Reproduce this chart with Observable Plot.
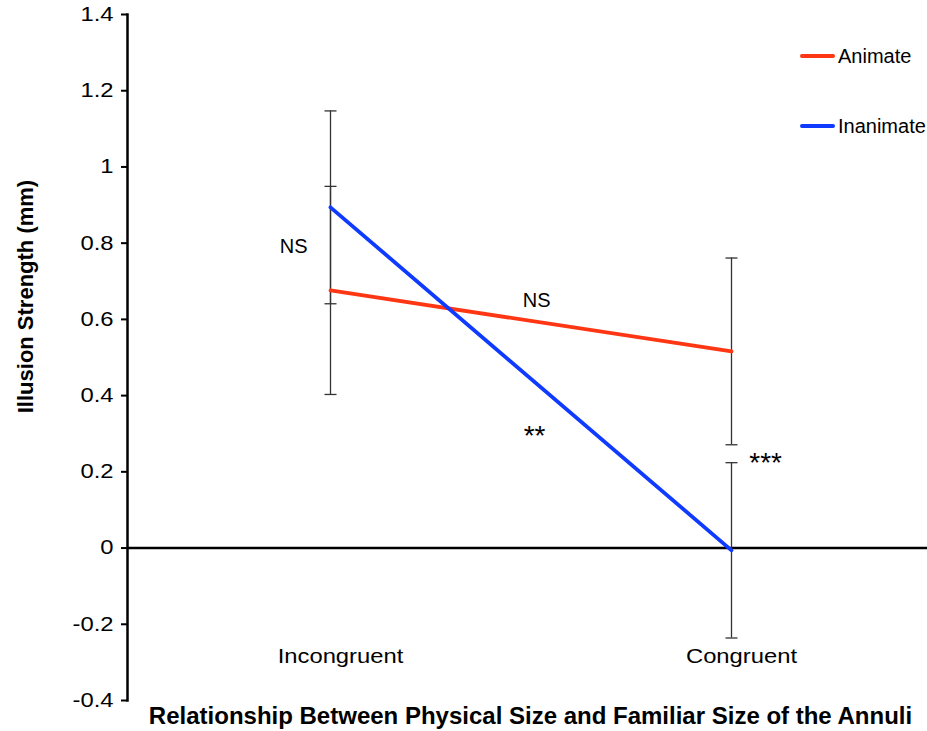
<!DOCTYPE html>
<html>
<head>
<meta charset="utf-8">
<script src="https://cdn.jsdelivr.net/npm/d3@7"></script>
<script src="https://cdn.jsdelivr.net/npm/@observablehq/plot@0.6"></script>
<style>
  body { margin: 0; background: white; font-family: "Liberation Sans", Arial, sans-serif; }
  #wrap { position: relative; width: 927px; height: 731px; }
  .legend { position: absolute; left: 800px; display: flex; align-items: center; font-size: 20px; color: #000; }
  .legend .sw { width: 35px; height: 4px; border-radius: 2px; margin-right: 3px; }
</style>
</head>
<body>
<div id="wrap"></div>
<script>
const categories = ["Incongruent", "Congruent"];
const series = ["Animate", "Inanimate"];
const colors = ["#ff3614", "#0f3aff"];
const animateValues = [0.676, 0.516];
const inanimateValues = [0.894, -0.006];
const animateErrors = [0.273, 0.245];
const inanimateErrors = [0.253, 0.23];
const yTicks = [-0.4, -0.2, 0, 0.2, 0.4, 0.6, 0.8, 1, 1.2, 1.4];
const annotationLabels = ["NS", "NS", "**", "***"];
const annotationX = [-0.092, 0.514, 0.509, 1.085];
const annotationY = [0.792, 0.65, 0.293, 0.223];
const annotationSizes = [20, 20, 28, 28];
const xTitle = "Relationship Between Physical Size and Familiar Size of the Annuli";
const yTitle = "Illusion Strength (mm)";

const valuesBySeries = [animateValues, inanimateValues];
const errorsBySeries = [animateErrors, inanimateErrors];
const rows = [];
series.forEach((s, si) => categories.forEach((c, ci) => {
  const v = valuesBySeries[si][ci], e = errorsBySeries[si][ci];
  rows.push({series: s, i: ci, value: v, lo: v - e, hi: v + e});
}));
const caps = rows.flatMap(r => [{i: r.i, y: r.lo}, {i: r.i, y: r.hi}]);
const notes = annotationLabels.map((t, k) => ({t, x: annotationX[k], y: annotationY[k], size: annotationSizes[k]}));
const ns = notes.filter(n => n.t === "NS");
const stars = notes.filter(n => n.t !== "NS");

const capSymbol = {
  draw(ctx, size) {
    const w = Math.sqrt(size / Math.PI);
    ctx.moveTo(-w, 0);
    ctx.lineTo(w, 0);
  }
};

const chart = Plot.plot({
  width: 927,
  height: 731,
  marginLeft: 127,
  marginRight: 0,
  marginTop: 14,
  marginBottom: 31,
  style: {fontFamily: "'Liberation Sans', Arial, sans-serif", background: "white", color: "black"},
  x: {domain: [0, 1], range: [330, 731]},
  y: {domain: [-0.4, 1.4]},
  color: {domain: series, range: colors},
  marks: [
    Plot.axisY({ticks: yTicks, tickSize: 6, tickPadding: 8, tickFormat: d => String(d), fontSize: 20, label: null, strokeWidth: 2}),
    Plot.frame({anchor: "left", strokeWidth: 2.5}),
    Plot.ruleY([0], {strokeWidth: 2.5}),
    Plot.axisX({ticks: [0, 1], tickFormat: i => categories[i], tickSize: 0, fontSize: 20, dy: -61, dx: 10, label: null}),
    Plot.ruleX(rows, {x: "i", y1: "lo", y2: "hi", stroke: "#333", strokeWidth: 1.3}),
    Plot.dot(caps, {x: "i", y: "y", r: 6, symbol: capSymbol, stroke: "#333", strokeWidth: 1.3, fill: "none"}),
    Plot.line(rows, {x: "i", y: "value", stroke: "series", z: "series", strokeWidth: 3.8}),
    Plot.text(ns, {x: "x", y: "y", text: "t", fontSize: "size", fill: "black"}),
    Plot.text(stars, {x: "x", y: "y", text: "t", fontSize: "size", fill: "black", ariaLabel: "stretch-text"}),
    Plot.text([{t: yTitle, y: 0.66}], {frameAnchor: "left", y: "y", text: "t", rotate: -90, textAnchor: "middle", lineAnchor: "middle", dx: -102, fontSize: 22, fontWeight: "bold", ariaLabel: "rotated-title"}),
    Plot.text([xTitle], {frameAnchor: "bottom", text: d => d, textAnchor: "middle", lineAnchor: "middle", dy: 16, dx: 3, fontSize: 24, fontWeight: "bold"})
  ]
});

function stretch(el, sx, sy) {
  const x = el.getAttribute("x");
  let t = el.getAttribute("transform") || "";
  if (x !== null && isFinite(+x) && +x !== 0) {
    t += ` translate(${+x},0)`;
    el.removeAttribute("x");
  }
  el.setAttribute("transform", `${t} scale(${sx},${sy})`);
}
const S = 1.19;
chart.querySelectorAll('g[aria-label="y-axis tick label"] text, g[aria-label="x-axis tick label"] text, g[aria-label="stretch-text"] text')
  .forEach(el => stretch(el, S, 1));
chart.querySelectorAll('g[aria-label="rotated-title"] text').forEach(el => stretch(el, 1, 1.1));

const wrap = document.getElementById("wrap");
wrap.appendChild(chart);
const legendTops = [56, 126];
series.forEach((s, k) => {
  const d = document.createElement("div");
  d.className = "legend";
  d.style.top = (legendTops[k] - 12) + "px";
  d.style.height = "24px";
  d.innerHTML = `<div class="sw" style="background:${colors[k]}"></div><span>${s}</span>`;
  wrap.appendChild(d);
});
</script>
</body>
</html>
